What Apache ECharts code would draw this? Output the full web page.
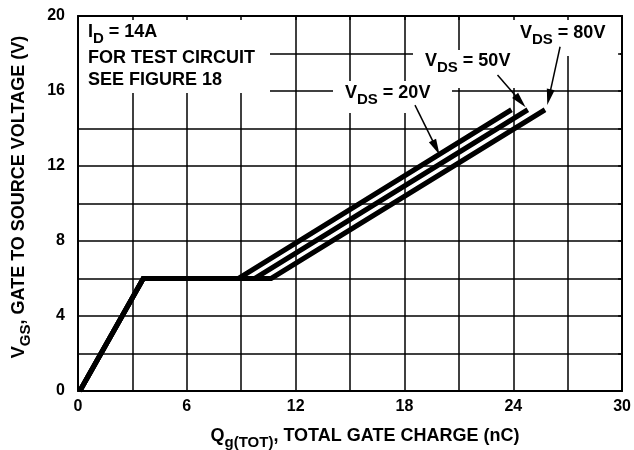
<!DOCTYPE html>
<html>
<head>
<meta charset="utf-8">
<script src="https://cdn.jsdelivr.net/npm/echarts@6/dist/echarts.min.js"></script>
<style>
html,body{margin:0;padding:0;background:#fff}
#chart{width:634px;height:450px}
</style>
</head>
<body>
<div id="chart"></div>
<script>
// 刻度标签
var xTickLabels = [0, 6, 12, 18, 24, 30];
var yTickLabels = [0, 4, 8, 12, 16, 20];

// 曲线数据 (Qg nC, VGS V)
var riseCurve = [[0.1, 0], [3.6, 6]];
var vds20Curve = [[8.85, 6], [23.9, 15]];
var vds50Curve = [[9.75, 6], [24.8, 15]];
var vds80Curve = [[10.65, 6], [25.75, 15]];

// 箭头 (起点, 箭头中心)
var arrow20 = [[18.58, 15.25], [19.74, 12.98]];
var arrow50 = [[23.13, 16.85], [24.39, 15.45]];
var arrow80 = [[26.58, 18.36], [25.97, 15.67]];

var FONT = '"Liberation Sans", Arial, sans-serif';
var chart = echarts.init(document.getElementById('chart'));

function arrowLine(pts) {
	return [{ coord: pts[0] }, { coord: pts[1] }];
}

function curveSeries(name, tail, arrow) {
	return {
		name: name,
		type: 'line',
		data: riseCurve.concat(tail),
		symbol: 'none',
		animation: false,
		z: 2,
		lineStyle: { color: '#000', width: 5, join: 'miter' },
		markLine: {
			silent: true,
			animation: false,
			symbol: ['none', 'path://M5,0 L10,22 L0,22 Z'],
			symbolSize: [8, 16],
			label: { show: false },
			lineStyle: { color: '#000', width: 1.5, type: 'solid' },
			data: [arrowLine(arrow)]
		}
	};
}

var subRich = {
	m: { fontFamily: FONT, fontWeight: 'bold', fontSize: 18, lineHeight: 20, verticalAlign: 'top', color: '#000' },
	s: { fontFamily: FONT, fontWeight: 'bold', fontSize: 15, lineHeight: 14, verticalAlign: 'top', padding: [8, 0, 0, 0], color: '#000' }
};
var titleRich = {
	m: { fontFamily: FONT, fontWeight: 'bold', fontSize: 18, lineHeight: 20, verticalAlign: 'top', color: '#000' },
	s: { fontFamily: FONT, fontWeight: 'bold', fontSize: 15, lineHeight: 14, verticalAlign: 'top', padding: [8, 0, 0, 0], color: '#000' }
};

function whiteBox(x, y, w, h) {
	return { type: 'rect', z: 1, silent: true, shape: { x: x, y: y, width: w, height: h }, style: { fill: '#fff' } };
}
function richText(x, y, text, rich) {
	return { type: 'text', z: 1, silent: true, x: x, y: y, style: { text: text, rich: rich, align: 'left', verticalAlign: 'top' } };
}
function plainText(x, y, text) {
	return { type: 'text', z: 1, silent: true, x: x, y: y,
		style: { text: text, font: 'bold 18px ' + FONT, fill: '#000', align: 'left', verticalAlign: 'middle' } };
}

var option = {
	backgroundColor: '#fff',
	animation: false,
	grid: { left: 78, right: 7, top: 16, bottom: 59 },
	xAxis: [{
		type: 'value', min: 0, max: 30, interval: 3,
		axisLine: { show: true, lineStyle: { color: '#000', width: 2 } },
		axisTick: { show: false },
		splitLine: { show: true, lineStyle: { color: '#000', width: 1.5 } },
		axisLabel: {
			margin: 8, color: '#000', fontFamily: FONT, fontWeight: 'bold', fontSize: 16,
			formatter: function (v) { return xTickLabels.indexOf(v) >= 0 ? String(v) : ''; }
		}
	}, {
		type: 'value', position: 'top', min: 0, max: 30, interval: 3, z: 3,
		axisLine: { show: true, onZero: false, lineStyle: { color: '#000', width: 2 } },
		axisTick: { show: true, inside: true, length: 4, lineStyle: { color: '#000', width: 1.5 } },
		axisLabel: { show: false },
		splitLine: { show: false }
	}],
	yAxis: [{
		type: 'value', min: 0, max: 20, interval: 2,
		axisLine: { show: true, lineStyle: { color: '#000', width: 2 } },
		axisTick: { show: false },
		splitLine: { show: true, lineStyle: { color: '#000', width: 1.5 } },
		axisLabel: {
			margin: 13, color: '#000', fontFamily: FONT, fontWeight: 'bold', fontSize: 16,
			formatter: function (v) { return yTickLabels.indexOf(v) >= 0 ? String(v) : ''; }
		}
	}, {
		type: 'value', position: 'right', min: 0, max: 20, interval: 2, z: 3,
		axisLine: { show: true, onZero: false, lineStyle: { color: '#000', width: 2 } },
		axisTick: { show: true, inside: true, length: 4, lineStyle: { color: '#000', width: 1.5 } },
		axisLabel: { show: false },
		splitLine: { show: false }
	}],
	series: [
		curveSeries('VDS = 20V', vds20Curve, arrow20),
		curveSeries('VDS = 50V', vds50Curve, arrow50),
		curveSeries('VDS = 80V', vds80Curve, arrow80)
	],
	graphic: [
		// 文本底色
		whiteBox(79, 17, 191, 76),
		whiteBox(333, 81, 119, 32),
		whiteBox(413, 50, 117, 38),
		whiteBox(513, 17, 107, 39),
		// 说明文字
		richText(88, 23, '{m|I}{s|D}{m| = 14A}', subRich),
		plainText(88, 58, 'FOR TEST CIRCUIT'),
		plainText(88, 80.5, 'SEE FIGURE 18'),
		richText(345, 84, '{m|V}{s|DS}{m| = 20V}', subRich),
		richText(425, 52, '{m|V}{s|DS}{m| = 50V}', subRich),
		richText(520, 24, '{m|V}{s|DS}{m| = 80V}', subRich),
		// 坐标轴标题
		{ type: 'text', z: 1, silent: true, x: 365, y: 427.5,
			style: { text: '{m|Q}{s|g(TOT)}{m|, TOTAL GATE CHARGE (nC)}', rich: titleRich, align: 'center', verticalAlign: 'top' } },
		{ type: 'text', z: 1, silent: true, x: 10, y: 197, rotation: Math.PI / 2,
			style: { text: '{m|V}{s|GS}{m|, GATE TO SOURCE VOLTAGE (V)}', rich: titleRich, align: 'center', verticalAlign: 'top' } }
	]
};
chart.setOption(option);
</script>
</body>
</html>
